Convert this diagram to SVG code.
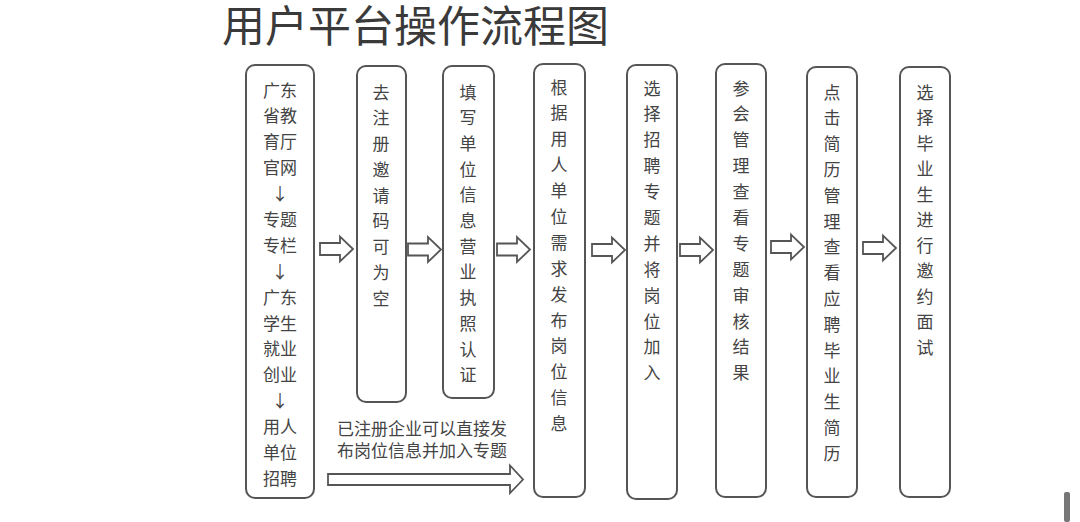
<svg xmlns="http://www.w3.org/2000/svg" width="1080" height="522" viewBox="0 0 1080 522">
<style>
.box{fill:#fff;stroke:#555;stroke-width:2}
.t{font-family:"Noto Sans CJK SC","Noto Sans",sans-serif;font-size:17px;fill:#444;text-anchor:middle}
.title{font-family:"Noto Sans CJK SC","Noto Sans",sans-serif;font-size:43px;fill:#3a3a3a}
.arr{fill:#fff;stroke:#555;stroke-width:1.8;stroke-linejoin:miter}
</style>
<defs>
<path id="ba" d="M0,-6 H20 V-12.5 L33,0 L20,12.5 V6 H0 Z"/>
</defs>
<rect width="1080" height="522" fill="#fff"/>
<text class="title" x="222" y="42">用户平台操作流程图</text>

<g id="n1">
<rect class="box" x="246" y="65" width="68" height="433" rx="9"/>
<text class="t" x="280" y="96.5"><tspan x="280">广东</tspan><tspan x="280" dy="25.9">省教</tspan><tspan x="280" dy="25.9">育厅</tspan><tspan x="280" dy="25.9">官网</tspan><tspan x="280" dy="25.9">↓</tspan><tspan x="280" dy="25.9">专题</tspan><tspan x="280" dy="25.9">专栏</tspan><tspan x="280" dy="25.9">↓</tspan><tspan x="280" dy="25.9">广东</tspan><tspan x="280" dy="25.9">学生</tspan><tspan x="280" dy="25.9">就业</tspan><tspan x="280" dy="25.9">创业</tspan><tspan x="280" dy="25.9">↓</tspan><tspan x="280" dy="25.9">用人</tspan><tspan x="280" dy="25.9">单位</tspan><tspan x="280" dy="25.9">招聘</tspan></text>
</g>

<g id="n2">
<rect class="box" x="357" y="66" width="49" height="336" rx="9"/>
<text class="t" x="381" y="98.5"><tspan x="381">去</tspan><tspan x="381" dy="25.75">注</tspan><tspan x="381" dy="25.75">册</tspan><tspan x="381" dy="25.75">邀</tspan><tspan x="381" dy="25.75">请</tspan><tspan x="381" dy="25.75">码</tspan><tspan x="381" dy="25.75">可</tspan><tspan x="381" dy="25.75">为</tspan><tspan x="381" dy="25.75">空</tspan></text>
</g>

<g id="n3">
<rect class="box" x="443" y="66" width="51" height="332" rx="9"/>
<text class="t" x="468" y="98.5"><tspan x="468">填</tspan><tspan x="468" dy="25.7">写</tspan><tspan x="468" dy="25.7">单</tspan><tspan x="468" dy="25.7">位</tspan><tspan x="468" dy="25.7">信</tspan><tspan x="468" dy="25.7">息</tspan><tspan x="468" dy="25.7">营</tspan><tspan x="468" dy="25.7">业</tspan><tspan x="468" dy="25.7">执</tspan><tspan x="468" dy="25.7">照</tspan><tspan x="468" dy="25.7">认</tspan><tspan x="468" dy="25.7">证</tspan></text>
</g>

<g id="n4">
<rect class="box" x="534" y="64" width="51" height="433" rx="9"/>
<text class="t" x="559" y="93.5"><tspan x="559">根</tspan><tspan x="559" dy="25.9">据</tspan><tspan x="559" dy="25.9">用</tspan><tspan x="559" dy="25.9">人</tspan><tspan x="559" dy="25.9">单</tspan><tspan x="559" dy="25.9">位</tspan><tspan x="559" dy="25.9">需</tspan><tspan x="559" dy="25.9">求</tspan><tspan x="559" dy="25.9">发</tspan><tspan x="559" dy="25.9">布</tspan><tspan x="559" dy="25.9">岗</tspan><tspan x="559" dy="25.9">位</tspan><tspan x="559" dy="25.9">信</tspan><tspan x="559" dy="25.9">息</tspan></text>
</g>

<g id="n5">
<rect class="box" x="627" y="65" width="50" height="434" rx="9"/>
<text class="t" x="652" y="94.5"><tspan x="652">选</tspan><tspan x="652" dy="25.9">择</tspan><tspan x="652" dy="25.9">招</tspan><tspan x="652" dy="25.9">聘</tspan><tspan x="652" dy="25.9">专</tspan><tspan x="652" dy="25.9">题</tspan><tspan x="652" dy="25.9">并</tspan><tspan x="652" dy="25.9">将</tspan><tspan x="652" dy="25.9">岗</tspan><tspan x="652" dy="25.9">位</tspan><tspan x="652" dy="25.9">加</tspan><tspan x="652" dy="25.9">入</tspan></text>
</g>

<g id="n6">
<rect class="box" x="716" y="64" width="50" height="433" rx="9"/>
<text class="t" x="741" y="94.5"><tspan x="741">参</tspan><tspan x="741" dy="25.9">会</tspan><tspan x="741" dy="25.9">管</tspan><tspan x="741" dy="25.9">理</tspan><tspan x="741" dy="25.9">查</tspan><tspan x="741" dy="25.9">看</tspan><tspan x="741" dy="25.9">专</tspan><tspan x="741" dy="25.9">题</tspan><tspan x="741" dy="25.9">审</tspan><tspan x="741" dy="25.9">核</tspan><tspan x="741" dy="25.9">结</tspan><tspan x="741" dy="25.9">果</tspan></text>
</g>

<g id="n7">
<rect class="box" x="807" y="67" width="50" height="430" rx="9"/>
<text class="t" x="832" y="98.5"><tspan x="832">点</tspan><tspan x="832" dy="25.8">击</tspan><tspan x="832" dy="25.8">简</tspan><tspan x="832" dy="25.8">历</tspan><tspan x="832" dy="25.8">管</tspan><tspan x="832" dy="25.8">理</tspan><tspan x="832" dy="25.8">查</tspan><tspan x="832" dy="25.8">看</tspan><tspan x="832" dy="25.8">应</tspan><tspan x="832" dy="25.8">聘</tspan><tspan x="832" dy="25.8">毕</tspan><tspan x="832" dy="25.8">业</tspan><tspan x="832" dy="25.8">生</tspan><tspan x="832" dy="25.8">简</tspan><tspan x="832" dy="25.8">历</tspan></text>
</g>

<g id="n8">
<rect class="box" x="900" y="67" width="50" height="430" rx="9"/>
<text class="t" x="925" y="98.5"><tspan x="925">选</tspan><tspan x="925" dy="25.5">择</tspan><tspan x="925" dy="25.5">毕</tspan><tspan x="925" dy="25.5">业</tspan><tspan x="925" dy="25.5">生</tspan><tspan x="925" dy="25.5">进</tspan><tspan x="925" dy="25.5">行</tspan><tspan x="925" dy="25.5">邀</tspan><tspan x="925" dy="25.5">约</tspan><tspan x="925" dy="25.5">面</tspan><tspan x="925" dy="25.5">试</tspan></text>
</g>

<g id="connectors">
<use href="#ba" class="arr" transform="translate(320,249)"/>
<use href="#ba" class="arr" transform="translate(408,249.5)"/>
<use href="#ba" class="arr" transform="translate(497,249.5)"/>
<use href="#ba" class="arr" transform="translate(592,250)"/>
<use href="#ba" class="arr" transform="translate(680,250)"/>
<use href="#ba" class="arr" transform="translate(771,247)"/>
<use href="#ba" class="arr" transform="translate(863,248)"/>
<path class="arr" d="M328,474 H510 V465.5 L523,479.5 L510,493 V485 H328 Z"/>
<text class="t" x="422" y="434.5"><tspan x="422">已注册企业可以直接发</tspan><tspan x="422" dy="22">布岗位信息并加入专题</tspan></text>
</g>

<rect x="1064" y="492" width="6" height="30" rx="2" fill="#777"/>
</svg>
